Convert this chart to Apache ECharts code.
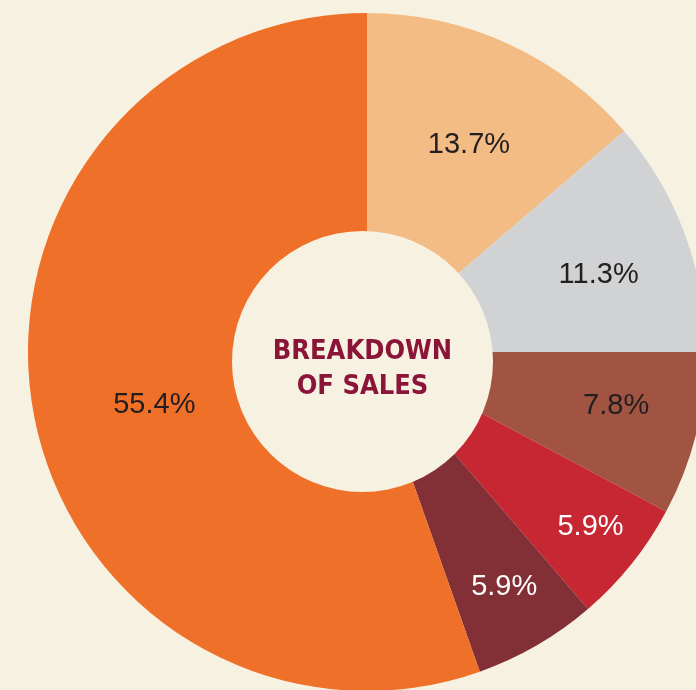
<!DOCTYPE html>
<html>
<head>
<meta charset="utf-8">
<script src="https://cdn.jsdelivr.net/npm/echarts@6/dist/echarts.min.js"></script>
<style>
  html, body { margin: 0; padding: 0; background: #f7f1e2; }
  #chart { width: 696px; height: 690px; }
</style>
</head>
<body>
<div id="chart"></div>
<script>
// share of sales, clockwise from 12 o'clock
var segments = ['Segment 1', 'Segment 2', 'Segment 3', 'Segment 4', 'Segment 5', 'Segment 6'];
var shares = [13.7, 11.3, 7.8, 5.9, 5.9, 55.4];
var centerTitle = ['BREAKDOWN', 'OF SALES'];

var colors = ['#f3bc84', '#d1d2d4', '#a05441', '#c62733', '#823035', '#ef7029'];
var labelColors = ['#231f20', '#231f20', '#231f20', '#ffffff', '#ffffff', '#231f20'];
// nudges so labels sit where the original puts them
var labelNudge = [[6, 2], [16, 3], [26, -2], [44, 31], [22, 36], [14, 14]];

var myChart = echarts.init(document.getElementById('chart'));

var pieData = segments.map(function (name, i) {
    return {
        name: name,
        value: shares[i],
        itemStyle: { color: colors[i] },
        label: { color: labelColors[i], offset: labelNudge[i] }
    };
});

myChart.setOption({
    backgroundColor: '#f7f1e2',
    animation: false,
    series: [
        {
            type: 'pie',
            center: [367, 352],
            radius: [115, 339],
            startAngle: 90,
            clockwise: true,
            avoidLabelOverlap: false,
            emphasis: { scale: false },
            itemStyle: { borderWidth: 0 },
            label: {
                show: true,
                position: 'inside',
                formatter: '{c}%',
                fontFamily: 'Liberation Sans, Arial, sans-serif',
                fontSize: 29
            },
            labelLine: { show: false },
            data: pieData
        },
        {
            // the hole in the middle with the title
            type: 'pie',
            silent: true,
            center: [362.5, 361.5],
            radius: [0, 130.5],
            itemStyle: { color: '#f7f1e2' },
            label: {
                show: true,
                position: 'center',
                formatter: centerTitle.join('\n'),
                color: '#8a1538',
                fontFamily: 'Liberation Sans Narrow, DejaVu Sans Condensed, sans-serif',
                fontWeight: 'bold',
                fontSize: 27,
                lineHeight: 35,
                offset: [0, 8]
            },
            labelLine: { show: false },
            data: [{ name: 'hole', value: 1 }]
        }
    ]
});
</script>
</body>
</html>
